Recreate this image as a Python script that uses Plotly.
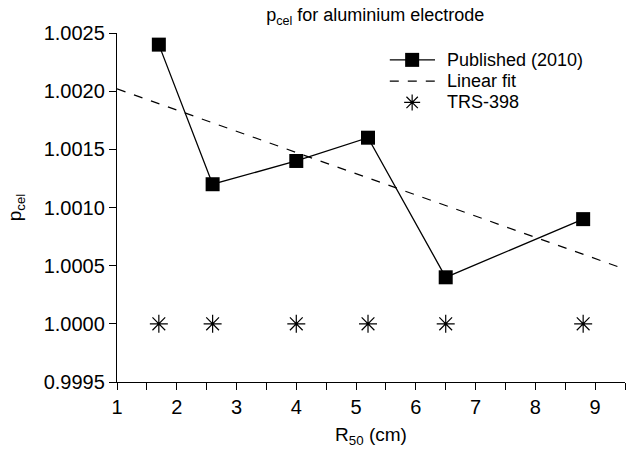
import plotly.graph_objects as go

r50 = [1.7, 2.6, 4.0, 5.2, 6.5, 8.8]
published = [1.0024, 1.0012, 1.0014, 1.0016, 1.0004, 1.0009]
trs398 = [1.0, 1.0, 1.0, 1.0, 1.0, 1.0]
fit_x = [1.0, 9.5]
fit_y = [1.00202, 1.00047]
legend_names = ["Published (2010)", "Linear fit", "TRS-398"]

font = "Liberation Sans, Arial, sans-serif"

fig = go.Figure()
fig.add_trace(go.Scatter(x=r50, y=published, mode="lines+markers", name=legend_names[0],
                         line=dict(color="black", width=1.3),
                         marker=dict(symbol="square", size=14, color="black")))
fig.add_trace(go.Scatter(x=fit_x, y=fit_y, mode="lines", name=legend_names[1],
                         line=dict(color="black", width=1.2, dash="dash")))
fig.add_trace(go.Scatter(x=r50, y=trs398, mode="markers", name=legend_names[2],
                         marker=dict(symbol="asterisk-open", size=15, color="black",
                                     line=dict(color="black", width=1.2))))

# custom legend (compact row spacing like the reference)
rows_y = [0.923, 0.862, 0.801]
lx0, lx1, lxm, ltx = 0.537, 0.626, 0.581, 0.646
shapes = []
annotations = []
shapes.append(dict(type="line", xref="paper", yref="paper", x0=lx0, x1=lx1,
                   y0=rows_y[0], y1=rows_y[0], line=dict(color="black", width=1.3)))
shapes.append(dict(type="rect", xref="paper", yref="paper", xsizemode="pixel", ysizemode="pixel",
                   xanchor=lxm, yanchor=rows_y[0], x0=-7, x1=7, y0=-7, y1=7,
                   fillcolor="black", line=dict(color="black", width=0)))
shapes.append(dict(type="line", xref="paper", yref="paper", x0=lx0, x1=lx1,
                   y0=rows_y[1], y1=rows_y[1], line=dict(color="black", width=1.2, dash="dash")))
shapes.append(dict(type="path", xref="paper", yref="paper", xsizemode="pixel", ysizemode="pixel",
                   xanchor=lxm, yanchor=rows_y[2],
                   path="M0,-8 L0,8 M-8,0 L8,0 M-5.7,-5.7 L5.7,5.7 M-5.7,5.7 L5.7,-5.7",
                   line=dict(color="black", width=1.2)))
for name, yy in zip(legend_names, rows_y):
    annotations.append(dict(text=name, xref="paper", yref="paper", x=ltx, y=yy,
                            xanchor="left", yanchor="middle", showarrow=False,
                            font=dict(size=18)))

fig.update_layout(
    width=636, height=454,
    margin=dict(l=117, r=11, t=33, b=72),
    paper_bgcolor="white", plot_bgcolor="white",
    font=dict(family=font, color="black", size=20),
    title=dict(text="p<sub>cel</sub> for aluminium electrode", x=0.59, xanchor="center",
               y=0.968, yanchor="middle", font=dict(size=18)),
    showlegend=False,
    shapes=shapes,
    annotations=annotations,
)
fig.update_xaxes(range=[1, 9.5], dtick=1, tick0=1, showgrid=False, zeroline=False,
                 showline=True, linecolor="black", linewidth=1.3,
                 ticks="outside", ticklen=7, tickcolor="black", tickwidth=1.3,
                 minor=dict(dtick=0.5, tick0=1, ticks="outside", ticklen=7,
                            tickcolor="black", tickwidth=1.3),
                 title=dict(text="R<sub>50</sub> (cm)", font=dict(size=19), standoff=10),
                 tickfont=dict(size=20))
fig.update_yaxes(range=[0.9995, 1.0025], dtick=0.0005, tick0=0.9995, tickformat=".4f",
                 showgrid=False, zeroline=False,
                 showline=True, linecolor="black", linewidth=1.3,
                 ticks="outside", ticklen=7, tickcolor="black", tickwidth=1.3,
                 title=dict(text="p<sub>cel</sub>", font=dict(size=19), standoff=17),
                 tickfont=dict(size=20))

fig.write_html("out.html")
